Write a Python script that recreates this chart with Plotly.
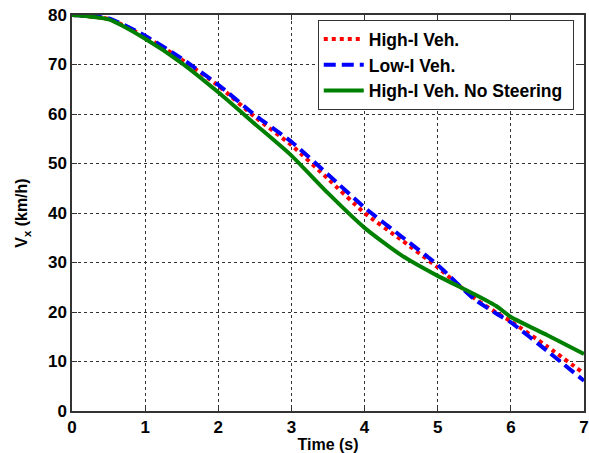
import plotly.graph_objects as go

time_s = [0, 0.5, 1, 1.5, 2, 2.5, 3, 3.5, 4, 4.5, 5, 5.5, 5.8, 6, 6.5, 7]
high_i = [80, 79.2, 75.6, 71.0, 65.7, 59.4, 53.7, 46.9, 40.0, 34.6, 29.0, 22.8, 19.9, 18.1, 13.0, 7.6]
low_i = [80, 79.3, 75.8, 71.2, 65.9, 59.8, 54.4, 47.8, 41.1, 35.3, 29.5, 22.6, 19.7, 17.9, 12.1, 6.1]
high_i_nosteer = [80, 79.1, 75.2, 70.3, 64.4, 58.0, 51.6, 44.0, 37.0, 31.5, 27.3, 23.6, 21.2, 19.0, 15.3, 11.5]

x_ticks = [0, 1, 2, 3, 4, 5, 6, 7]
y_ticks = [0, 10, 20, 30, 40, 50, 60, 70, 80]

font_fam = "Liberation Sans, Arial, sans-serif"

fig = go.Figure()
fig.add_trace(go.Scatter(x=time_s, y=high_i, mode="lines", name="<b>High-I Veh.</b>",
                         line=dict(color="#ff0000", width=4, dash="dot", shape="spline", smoothing=0.6)))
fig.add_trace(go.Scatter(x=time_s, y=low_i, mode="lines", name="<b>Low-I Veh.</b>",
                         line=dict(color="#0000ff", width=4, dash="12px,6px", shape="spline", smoothing=0.6)))
fig.add_trace(go.Scatter(x=time_s, y=high_i_nosteer, mode="lines", name="<b>High-I Veh. No Steering</b>&nbsp;",
                         line=dict(color="#008000", width=4, shape="spline", smoothing=0.6)))

axis_common = dict(
    showgrid=True, gridcolor="#333333", gridwidth=1, griddash="3px,3px",
    showline=True, linecolor="#333333", linewidth=1.5, mirror="ticks",
    ticks="inside", ticklen=5, tickcolor="#333333",
    zeroline=False, ticklabeloverflow="allow",
    tickfont=dict(family=font_fam, size=17, color="black"),
)

fig.update_xaxes(range=[0, 7], tickvals=x_ticks, ticktext=[f"<b>{v}</b>" for v in x_ticks],
                 title=dict(text="<b>Time (s)</b>", font=dict(family=font_fam, size=16, color="black"), standoff=4),
                 automargin=False, **axis_common)
fig.update_yaxes(range=[0, 80], tickvals=y_ticks, ticktext=[f"<b>{v}</b>" for v in y_ticks],
                 title=dict(text="<b>V<sub>x</sub> (km/h)</b>", font=dict(family=font_fam, size=16, color="black"), standoff=16),
                 automargin=False, **axis_common)

fig.update_layout(
    width=589, height=453,
    margin=dict(l=72, r=5, t=15, b=42),
    plot_bgcolor="white", paper_bgcolor="white",
    font=dict(family=font_fam, color="black"),
    legend=dict(x=0.48, y=0.987, xanchor="left", yanchor="top",
                bgcolor="white", bordercolor="#333333", borderwidth=1,
                font=dict(family=font_fam, size=17.5, color="black"),
                tracegroupgap=0, itemwidth=40),
    showlegend=True,
)

fig.write_html(
    "out.html",
    config={"displayModeBar": False},
    post_script="document.body.style.margin='0';document.body.style.overflow='hidden';",
)
